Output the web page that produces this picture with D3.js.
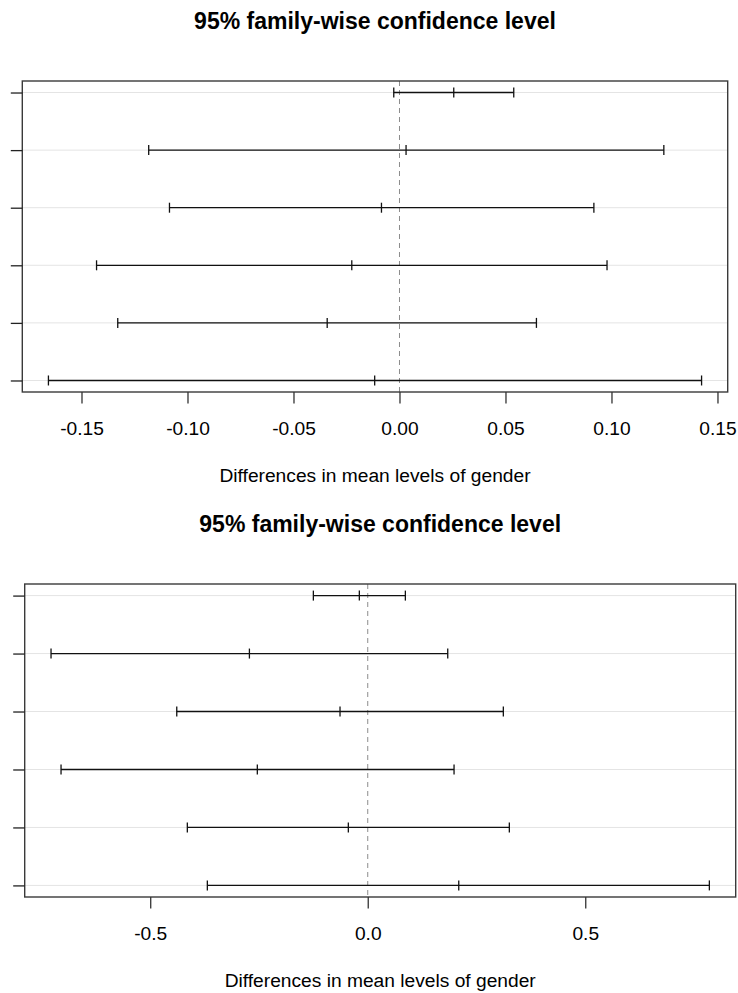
<!DOCTYPE html>
<html>
<head>
<meta charset="utf-8">
<script src="https://cdn.jsdelivr.net/npm/d3@7"></script>
<style>
  html, body { margin: 0; padding: 0; background: #fff; }
  svg { display: block; }
  text { font-family: "Liberation Sans", Arial, Helvetica, sans-serif; fill: #000; }
</style>
</head>
<body>
<svg id="chart" width="738" height="993"></svg>
<script>
// Tukey HSD intervals, one row per pairwise comparison (top row first)
const titleText = "95% family-wise confidence level";
const xLabelText = "Differences in mean levels of gender";

// Upper panel
const diffA = [0.0256, 0.0031, -0.0085, -0.0225, -0.0341, -0.0117];
const lwrA  = [-0.0027, -0.1183, -0.1085, -0.1429, -0.1329, -0.1656];
const uprA  = [0.0539, 0.1247, 0.0917, 0.0979, 0.0646, 0.1425];
const ticksA = [-0.15, -0.10, -0.05, 0.00, 0.05, 0.10, 0.15];
const tickLabelsA = ["-0.15", "-0.10", "-0.05", "0.00", "0.05", "0.10", "0.15"];

// Lower panel
const diffB = [-0.0193, -0.2720, -0.0637, -0.2538, -0.0446, 0.2092];
const lwrB  = [-0.1250, -0.7280, -0.4390, -0.7050, -0.4147, -0.3687];
const uprB  = [0.0865, 0.1839, 0.3117, 0.1984, 0.3255, 0.7853];
const ticksB = [-0.5, 0.0, 0.5];
const tickLabelsB = ["-0.5", "0.0", "0.5"];

const svg = d3.select("#chart");
const baseFont = 19.2;

function panel(box, diff, lwr, upr, ticks, tickLabels) {
  const n = diff.length;
  // row positions n..1 from top to bottom, as in plot.TukeyHSD
  const rows = d3.range(n).map(i => n - i);
  const all = lwr.concat(upr);
  const [lo, hi] = d3.extent(all);
  const pad = (hi - lo) * 0.04;
  const x = d3.scaleLinear().domain([lo - pad, hi + pad]).range([box.left, box.right]);
  const ypad = (n - 1) * 0.04;
  const y = d3.scaleLinear().domain([1 - ypad, n + ypad]).range([box.bottom, box.top]);

  const g = svg.append("g");

  // light horizontal guides at each row
  g.selectAll("line.guide").data(rows).join("line")
    .attr("class", "guide")
    .attr("x1", box.left).attr("x2", box.right)
    .attr("y1", d => y(d)).attr("y2", d => y(d))
    .attr("stroke", "#e4e4e4").attr("stroke-width", 1);

  // zero reference
  g.append("line")
    .attr("x1", x(0)).attr("x2", x(0))
    .attr("y1", box.top).attr("y2", box.bottom)
    .attr("stroke", "#8c8c8c").attr("stroke-width", 1)
    .attr("stroke-dasharray", "5,4");

  const data = rows.map((r, i) => ({ r, d: diff[i], l: lwr[i], u: upr[i] }));
  const cap = 5;
  const bars = g.selectAll("g.bar").data(data).join("g").attr("class", "bar");
  bars.append("line")
    .attr("x1", d => x(d.l)).attr("x2", d => x(d.u))
    .attr("y1", d => y(d.r)).attr("y2", d => y(d.r))
    .attr("stroke", "#111").attr("stroke-width", 1.3);
  ["l", "d", "u"].forEach(k => {
    bars.append("line")
      .attr("x1", d => x(d[k])).attr("x2", d => x(d[k]))
      .attr("y1", d => y(d.r) - cap).attr("y2", d => y(d.r) + cap)
      .attr("stroke", "#111").attr("stroke-width", 1.3);
  });

  // frame
  g.append("rect")
    .attr("x", box.left).attr("y", box.top)
    .attr("width", box.right - box.left).attr("height", box.bottom - box.top)
    .attr("fill", "none").attr("stroke", "#3a3a3a").attr("stroke-width", 1.4);

  // x axis
  const xa = g.append("g").attr("transform", `translate(0,${box.bottom})`)
    .call(d3.axisBottom(x).tickValues(ticks)
      .tickFormat((d, i) => tickLabels[i]).tickSize(11.5).tickSizeOuter(0));
  xa.select(".domain").remove();
  xa.selectAll(".tick line").attr("stroke", "#333").attr("stroke-width", 1.3);
  xa.selectAll(".tick text")
    .attr("y", 42.5).attr("dy", null)
    .attr("font-size", baseFont).attr("fill", "#000");
  xa.attr("font-family", null).attr("font-size", null);

  // y axis: ticks only
  const ya = g.append("g").attr("transform", `translate(${box.left},0)`)
    .call(d3.axisLeft(y).tickValues(rows).tickFormat("").tickSize(11.5).tickSizeOuter(0));
  ya.select(".domain").remove();
  ya.selectAll(".tick line").attr("stroke", "#222").attr("stroke-width", 1.3);

  // title and axis label
  const cx = (box.left + box.right) / 2;
  g.append("text")
    .attr("x", cx).attr("y", box.top - 52)
    .attr("text-anchor", "middle")
    .attr("font-weight", "bold").attr("font-size", 23)
    .text(titleText);
  g.append("text")
    .attr("x", cx).attr("y", box.bottom + 89.5)
    .attr("text-anchor", "middle")
    .attr("font-size", baseFont)
    .text(xLabelText);
}

panel({ left: 22.3, right: 727.7, top: 81, bottom: 392 }, diffA, lwrA, uprA, ticksA, tickLabelsA);
panel({ left: 24.7, right: 735.7, top: 584, bottom: 897 }, diffB, lwrB, uprB, ticksB, tickLabelsB);
</script>
</body>
</html>
